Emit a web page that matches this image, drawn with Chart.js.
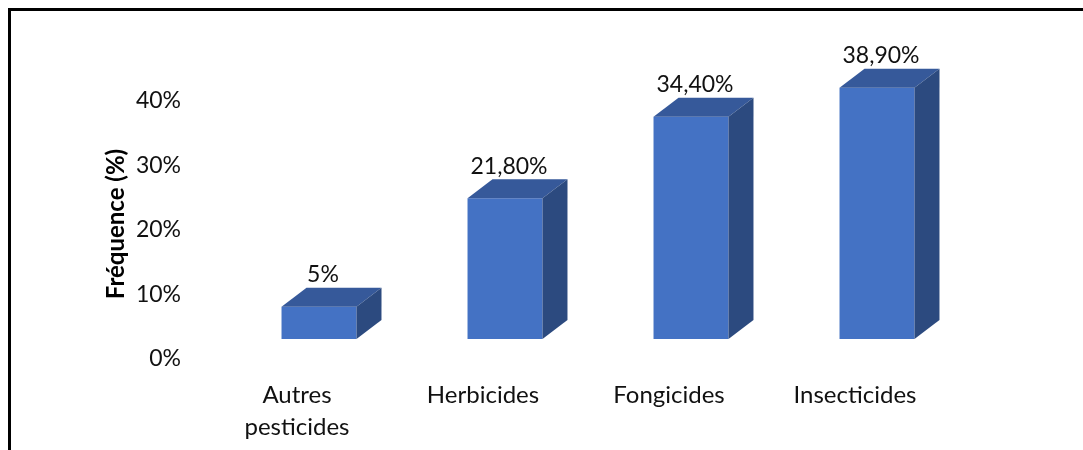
<!DOCTYPE html>
<html lang="fr">
<head>
<meta charset="utf-8">
<title>Fréquence des pesticides</title>
<script src="https://cdn.jsdelivr.net/npm/chart.js@4.4.1/dist/chart.umd.min.js"></script>
<style>
    html, body { margin: 0; padding: 0; background: #fff; }
    #wrap { width: 1083px; height: 450px; }
</style>
</head>
<body>
<div id="wrap"><canvas id="pesticideChart" width="1083" height="450"></canvas></div>
<script>
const categories = [['Autres', 'pesticides'], 'Herbicides', 'Fongicides', 'Insecticides'];
const frequencies = [5, 21.8, 34.4, 38.9];
const yTicks = [0, 10, 20, 30, 40];
const yTitle = 'Fréquence (%)';

const FONT = 'Lato, "Open Sans", sans-serif';
const FRONT = '#4472C4';
const TOP = '#36599A';
const SIDE = '#2C4A7F';
const DEPTH_X = 25;
const DEPTH_Y = 19;

function formatPct(v) {
    if (Number.isInteger(v)) return v + '%';
    return v.toFixed(2).replace('.', ',') + '%';
}

// top and side faces of each box, value labels, frame and the rotated axis title
const boxPlugin = {
    id: 'box3d',
    afterDatasetsDraw(chart) {
        const ctx = chart.ctx;
        const meta = chart.getDatasetMeta(0);
        meta.data.forEach((bar, i) => {
            const half = bar.width / 2;
            const left = bar.x - half;
            const right = bar.x + half;
            const top = bar.y;
            const bottom = bar.base;

            ctx.save();
            ctx.fillStyle = TOP;
            ctx.beginPath();
            ctx.moveTo(left, top);
            ctx.lineTo(left + DEPTH_X, top - DEPTH_Y);
            ctx.lineTo(right + DEPTH_X, top - DEPTH_Y);
            ctx.lineTo(right, top);
            ctx.closePath();
            ctx.fill();

            ctx.fillStyle = SIDE;
            ctx.beginPath();
            ctx.moveTo(right, top);
            ctx.lineTo(right + DEPTH_X, top - DEPTH_Y);
            ctx.lineTo(right + DEPTH_X, bottom - DEPTH_Y);
            ctx.lineTo(right, bottom);
            ctx.closePath();
            ctx.fill();

            ctx.fillStyle = '#111';
            ctx.font = '23px ' + FONT;
            ctx.textAlign = 'center';
            ctx.textBaseline = 'middle';
            ctx.fillText(formatPct(frequencies[i]), bar.x + 4, top - 32);
            ctx.restore();
        });
    },
    afterDraw(chart) {
        const ctx = chart.ctx;
        ctx.save();
        ctx.fillStyle = '#000';
        ctx.fillRect(8, 8, chart.width - 8, 3);
        ctx.fillRect(8, 8, 3, chart.height - 8);

        ctx.translate(116, 224);
        ctx.rotate(-Math.PI / 2);
        ctx.font = 'bold 24px ' + FONT;
        ctx.textAlign = 'center';
        ctx.textBaseline = 'middle';
        ctx.fillText(yTitle, 0, 0);
        ctx.restore();
    }
};

const ctx = document.getElementById('pesticideChart').getContext('2d');
new Chart(ctx, {
    type: 'bar',
    data: {
        labels: categories,
        datasets: [{
            label: yTitle,
            data: frequencies,
            backgroundColor: FRONT,
            borderWidth: 0,
            categoryPercentage: 1,
            barPercentage: 0.403
        }]
    },
    options: {
        responsive: false,
        animation: false,
        layout: { padding: { top: 16, left: 100, right: 113, bottom: 0 } },
        plugins: {
            legend: { display: false },
            tooltip: { enabled: false }
        },
        scales: {
            x: {
                grid: { display: false, drawTicks: false },
                border: { display: false },
                ticks: {
                    color: '#111',
                    font: { family: FONT, size: 24, lineHeight: 1.35 },
                    padding: 40,
                    labelOffset: -22,
                    maxRotation: 0
                },
                afterFit(scale) { scale.height = 111; }
            },
            y: {
                min: 0,
                max: 50,
                grid: { display: false, drawTicks: false },
                border: { display: false },
                ticks: {
                    stepSize: 10,
                    color: '#111',
                    font: { family: FONT, size: 23 },
                    padding: 45,
                    labelOffset: 20,
                    callback: v => yTicks.includes(v) ? v + '%' : ''
                },
                afterFit(scale) {
                    scale.width = 126;
                    // tick padding is horizontal here, keep it out of the vertical margins
                    scale.paddingTop = 0;
                    scale.paddingBottom = 0;
                }
            }
        }
    },
    plugins: [boxPlugin]
});
</script>
</body>
</html>
